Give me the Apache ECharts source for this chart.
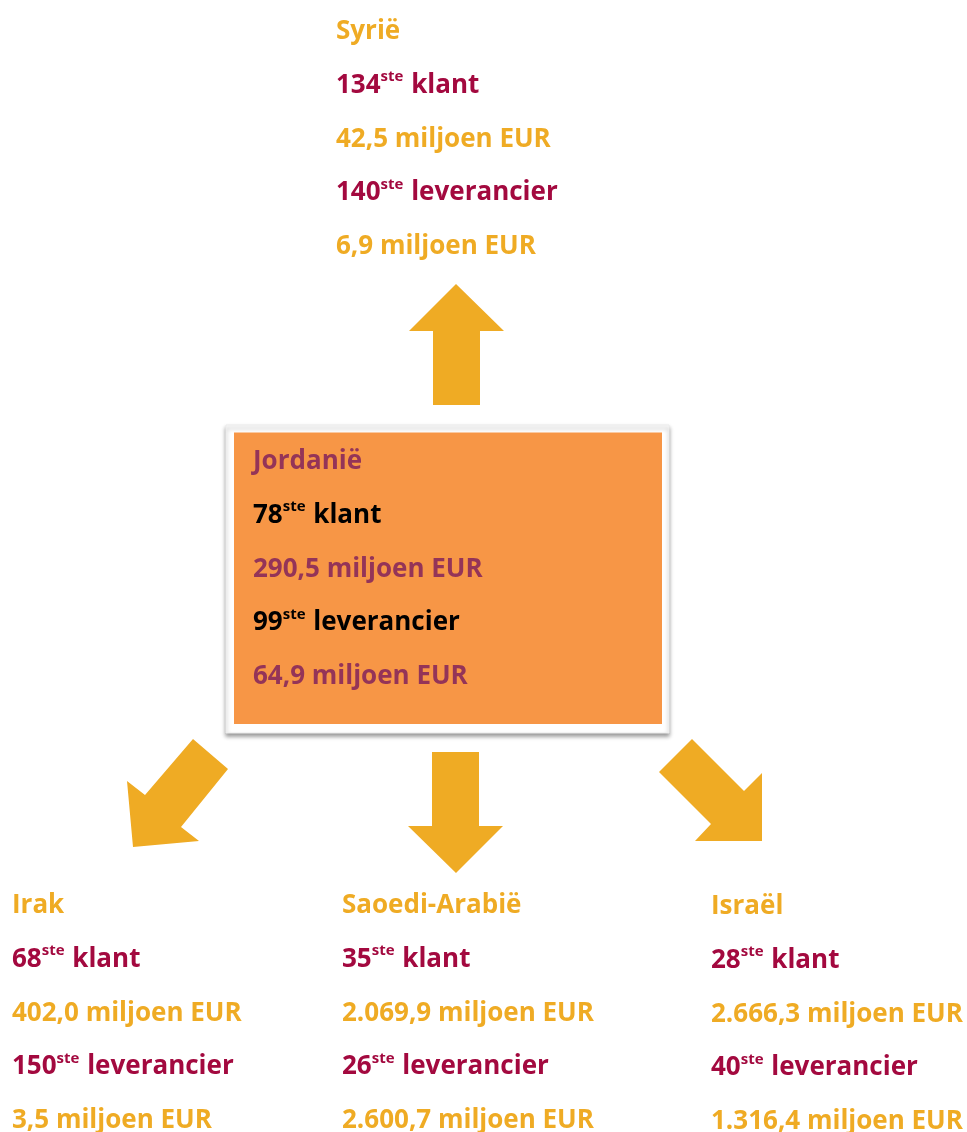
<!DOCTYPE html>
<html>
<head>
<meta charset="utf-8">
<script src="https://cdn.jsdelivr.net/npm/echarts@6/dist/echarts.min.js"></script>
<style>
html, body { margin: 0; padding: 0; background: #fff; }
#main { width: 967px; height: 1132px; }
</style>
</head>
<body>
<div id="main"></div>
<script>
// handelspartners van Jordanië
const countries = ['Jordanië', 'Syrië', 'Irak', 'Saoedi-Arabië', 'Israël']
const klantRank = [78, 134, 68, 35, 28]
const exportValue = [290.5, 42.5, 402.0, 2069.9, 2666.3]
const leverancierRank = [99, 140, 150, 26, 40]
const importValue = [64.9, 6.9, 3.5, 2600.7, 1316.4]

// plaats van elk tekstblok (links, midden van de eerste regel)
const blockPos = [[253, 462], [336, 32], [12, 906], [342, 906], [711, 907]]
const lineGap = 53.6

const GOLD = '#EFAB24'
const CRIMSON = '#A3093F'
const PURPLE = '#943458'
const FONT = '"Open Sans"'
const SIZE = 26

function fmt (v) {
  let parts = v.toFixed(1).split('.')
  return parts[0].replace(/\B(?=(\d{3})+(?!\d))/g, '.') + ',' + parts[1] + ' miljoen EUR'
}

function textEl (x, y, str, color, withSup) {
  return {
    type: 'text',
    x: x,
    y: y,
    silent: true,
    style: {
      text: str,
      fill: color,
      font: 'bold ' + SIZE + 'px ' + FONT,
      verticalAlign: 'middle',
      align: 'left',
      rich: withSup ? {
        n: { fontFamily: FONT, fontWeight: 'bold', fontSize: SIZE, lineHeight: SIZE, fill: color, verticalAlign: 'middle' },
        s: { fontFamily: FONT, fontWeight: 'bold', fontSize: 15, lineHeight: 15, fill: color, verticalAlign: 'middle', padding: [0, 1, 17, 0] }
      } : undefined
    }
  }
}

let graphics = []

// pijlen
const arrows = [
  [[456, 284], [504, 331], [480, 331], [480, 405], [433, 405], [433, 331], [409, 331]],
  [[456, 873], [503, 826], [479, 826], [479, 752], [432, 752], [432, 826], [408, 826]],
  [[133, 847], [127, 781], [145, 795], [193, 739], [228, 769], [181, 827], [199, 841]],
  [[762, 841], [762, 773], [744, 791], [692, 739], [659, 772], [711, 824], [695, 841]]
]
arrows.forEach(function (pts) {
  graphics.push({ type: 'polygon', silent: true, shape: { points: pts }, style: { fill: GOLD } })
})

// kader rond Jordanië
graphics.push({
  type: 'rect', silent: true,
  shape: { x: 226, y: 425, width: 443, height: 308 },
  style: { fill: '#fff', stroke: '#ececec', lineWidth: 1, shadowBlur: 4, shadowOffsetY: 3, shadowColor: 'rgba(0,0,0,0.4)' }
})
graphics.push({
  type: 'rect', silent: true,
  shape: { x: 234, y: 432.5, width: 428, height: 291.5 },
  style: { fill: '#F79646' }
})

countries.forEach(function (name, i) {
  let x = blockPos[i][0]
  let y = blockPos[i][1]
  let c1 = i === 0 ? PURPLE : GOLD
  let c2 = i === 0 ? '#000' : CRIMSON
  graphics.push(textEl(x, y, name, c1, false))
  graphics.push(textEl(x, y + lineGap, '{n|' + klantRank[i] + '}{s|ste}{n| klant}', c2, true))
  graphics.push(textEl(x, y + lineGap * 2, fmt(exportValue[i]), c1, false))
  graphics.push(textEl(x, y + lineGap * 3, '{n|' + leverancierRank[i] + '}{s|ste}{n| leverancier}', c2, true))
  graphics.push(textEl(x, y + lineGap * 4, fmt(importValue[i]), c1, false))
})

let myChart = echarts.init(document.getElementById('main'), null, { renderer: 'canvas' })
myChart.setOption({
  backgroundColor: '#fff',
  animation: false,
  graphic: { elements: graphics }
})
window.onresize = myChart.resize
</script>
</body>
</html>
